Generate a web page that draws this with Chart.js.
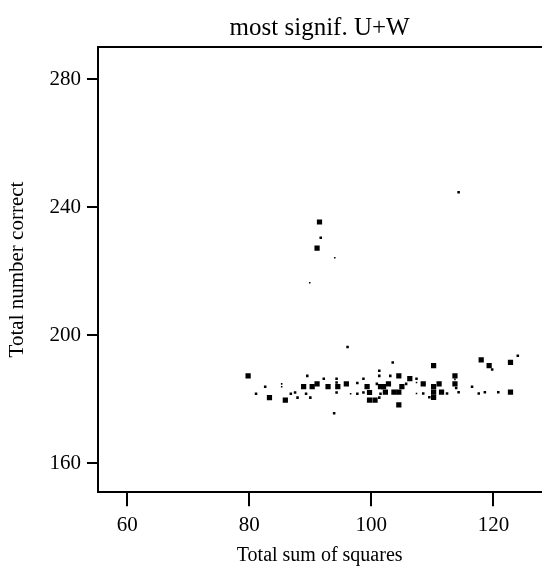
<!DOCTYPE html>
<html><head><meta charset="utf-8">
<script src="https://cdn.jsdelivr.net/npm/chart.js@4.4.0/dist/chart.umd.min.js"></script>
<style>html,body{margin:0;padding:0;background:#fff}#wrap{width:545px;height:569px}</style>
</head><body><div id="wrap"><canvas id="c" width="545" height="569"></canvas></div>
<script>
const titleText = "most signif. U+W";
const xTitle = "Total sum of squares";
const yTitle = "Total number correct";
const xTicks = [60, 80, 100, 120];
const yTicks = [160, 200, 240, 280];
const xRange = [55.2, 127.85];
const yRange = [150.9, 290.2];

const bigX = [79.8, 83.3, 85.9, 88.9, 90.3, 91.1, 92.9, 94.5, 95.9, 99.3, 99.7, 99.7, 100.6, 101.5, 102.0, 102.3, 102.8, 103.7, 104.5, 104.5, 105.0, 106.3, 104.5, 108.5, 110.2, 110.2, 111.1, 110.2, 110.2, 111.5, 113.7, 113.7, 118.0, 119.3, 122.8, 122.8, 91.5, 91.1];
const bigY = [187.3, 180.5, 179.7, 183.9, 183.9, 184.8, 183.9, 183.9, 184.8, 183.9, 182.1, 179.7, 179.7, 183.9, 183.9, 182.2, 184.8, 182.2, 182.2, 187.3, 183.9, 186.4, 178.2, 184.8, 190.5, 183.9, 184.8, 182.2, 180.6, 182.2, 187.3, 184.8, 192.3, 190.5, 191.5, 182.2, 235.4, 227.2];

const smallX = [81.1, 82.6, 86.8, 87.5, 87.9, 89.5, 89.3, 90.0, 92.2, 94.3, 94.3, 94.3, 93.9, 97.7, 97.7, 98.7, 98.7, 100.9, 101.3, 101.3, 101.5, 101.3, 103.1, 103.5, 105.7, 107.4, 108.5, 109.5, 112.4, 113.9, 114.3, 116.5, 117.6, 118.6, 119.8, 120.8, 124.0, 91.7, 96.1, 114.3];
const smallY = [181.7, 183.9, 181.7, 182.1, 180.5, 187.3, 181.7, 180.5, 186.4, 186.4, 185.2, 182.1, 175.6, 185.1, 181.7, 186.4, 182.1, 184.8, 188.9, 187.3, 181.7, 180.5, 187.3, 191.5, 184.8, 186.4, 181.8, 180.6, 181.8, 183.5, 182.2, 183.9, 181.8, 182.2, 189.3, 182.2, 193.6, 230.5, 196.3, 244.7];

const tinyX = [85.3, 85.3, 96.6, 107.4, 107.4, 94.0, 89.9, 113.7];
const tinyY = [184.8, 183.9, 181.7, 185.2, 181.8, 224.2, 216.4, 186.2];

const FONT = '"Liberation Serif", "Times New Roman", serif';
const pts = (xs, ys) => xs.map((x, i) => ({x: x, y: ys[i]}));
const mk = (xs, ys, r) => ({
  data: pts(xs, ys), pointStyle: 'rect', pointRadius: r, pointHoverRadius: r,
  backgroundColor: '#000', borderColor: '#000', borderWidth: 0, showLine: false
});

new Chart(document.getElementById('c'), {
  type: 'scatter',
  data: { datasets: [mk(bigX, bigY, 3.7), mk(smallX, smallY, 1.8), mk(tinyX, tinyY, 1.1)] },
  options: {
    responsive: false, animation: false, events: [],
    layout: { padding: 0 },
    plugins: {
      legend: { display: false }, tooltip: { enabled: false },
      title: { display: true, text: titleText, fullSize: false, color: '#000',
        font: { family: FONT, size: 25, weight: 'normal' }, padding: { top: 13.5, bottom: 3.2 } }
    },
    scales: {
      x: {
        type: 'linear', position: 'bottom', min: xRange[0], max: xRange[1],
        afterBuildTicks: s => { s.ticks = xTicks.map(v => ({value: v})); },
        afterFit: s => { s.height = 76.7; },
        grid: { drawOnChartArea: false, drawTicks: true, tickLength: 14, lineWidth: 2, tickColor: '#000', color: '#000' },
        border: { display: true, color: '#000', width: 2 },
        ticks: { color: '#000', padding: 7, font: { family: FONT, size: 21 }, maxRotation: 0 },
        title: { display: true, text: xTitle, color: '#000', font: { family: FONT, size: 20 }, padding: { top: 0, bottom: 1 } }
      },
      x2: {
        type: 'linear', position: 'top', display: true,
        afterFit: s => { s.height = 0; },
        grid: { display: false, drawTicks: false },
        border: { display: true, color: '#000', width: 2 },
        ticks: { display: false }
      },
      y: {
        type: 'linear', position: 'left', min: yRange[0], max: yRange[1],
        afterBuildTicks: s => { s.ticks = yTicks.map(v => ({value: v})); },
        afterFit: s => { s.width = 98; },
        grid: { drawOnChartArea: false, drawTicks: true, tickLength: 11, lineWidth: 2, tickColor: '#000', color: '#000' },
        border: { display: true, color: '#000', width: 2 },
        ticks: { color: '#000', padding: 6, font: { family: FONT, size: 21 } },
        title: { display: true, text: yTitle, color: '#000', font: { family: FONT, size: 21 }, padding: { top: 4.5, bottom: 0 } }
      }
    }
  }
});
</script>
</body></html>
